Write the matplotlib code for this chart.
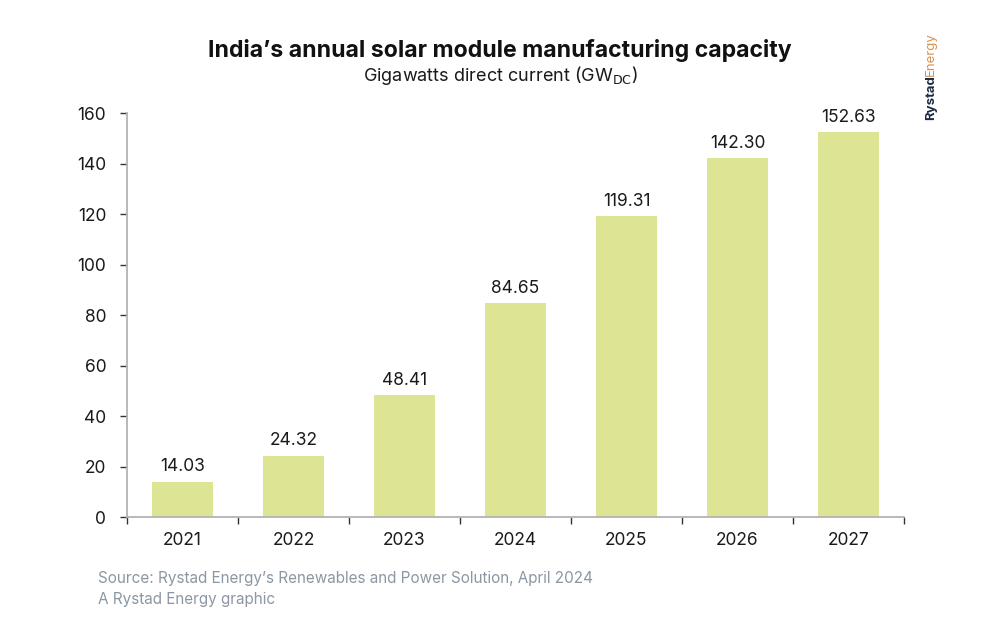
import numpy as np
import matplotlib.pyplot as plt

# 数据
years = ['2021', '2022', '2023', '2024', '2025', '2026', '2027']
capacity = [14.03, 24.32, 48.41, 84.65, 119.31, 142.30, 152.63]
y_ticks = [0, 20, 40, 60, 80, 100, 120, 140, 160]

plt.rcParams['font.family'] = ['Inter', 'DejaVu Sans']

bar_color = '#dde594'
axis_color = '#b3b3b3'
text_color = '#1a1a1a'

fig = plt.figure(figsize=(10, 6.4), dpi=100)
ax = fig.add_axes([0.127, 0.192, 0.777, 0.631])

x = np.arange(len(years))
bars = ax.bar(x, capacity, width=0.55, color=bar_color, zorder=2)

# 数值标签
for xi, v in zip(x, capacity):
    ax.text(xi, v + 2.5, f'{v:.2f}', ha='center', va='bottom',
            fontsize=12.5, color=text_color)

ax.set_xlim(-0.5, len(years) - 0.5)
ax.set_ylim(0, 160)
ax.set_yticks(y_ticks)
ax.tick_params(axis='y', labelsize=12.5, colors=text_color, length=5,
               width=1, pad=10)

# x轴刻度在类别之间
ax.set_xticks(x)
ax.set_xticklabels(years, fontsize=12.5, color=text_color)
ax.tick_params(axis='x', which='major', length=0, pad=11)
ax.set_xticks(np.arange(-0.5, len(years), 1), minor=True)
ax.tick_params(axis='x', which='minor', length=5, width=1, color='#333333')
ax.tick_params(axis='y', color='#333333')

for side in ['top', 'right']:
    ax.spines[side].set_visible(False)
for side in ['left', 'bottom']:
    ax.spines[side].set_color(axis_color)
    ax.spines[side].set_linewidth(1.3)

# 标题
fig.text(0.5, 0.921, 'India\u2019s annual solar module manufacturing capacity',
         ha='center', va='center', fontsize=16.6, fontweight='bold', color='#111111')
fig.text(0.5, 0.882, r'Gigawatts direct current (GW$_{\mathrm{DC}}$)',
         ha='center', va='center', fontsize=13, color=text_color)

# 来源
fig.text(0.098, 0.096, 'Source: Rystad Energy\u2019s Renewables and Power Solution, April 2024',
         ha='left', va='center', fontsize=11, color='#8c97a3')
fig.text(0.098, 0.064, 'A Rystad Energy graphic',
         ha='left', va='center', fontsize=11, color='#8c97a3')

# 标志
logo1 = fig.text(0.931, 0.813, 'Rystad', rotation=90, ha='center', va='bottom',
                 fontsize=9.5, fontweight='bold', color='#1d2a44')
fig.canvas.draw()
bb = logo1.get_window_extent()
top = bb.y1 / fig.bbox.height
fig.text(0.931, top - 0.002, 'Energy', rotation=90, ha='center', va='bottom',
         fontsize=9.5, color='#d9924f')

fig.savefig('out.png', dpi=100)
